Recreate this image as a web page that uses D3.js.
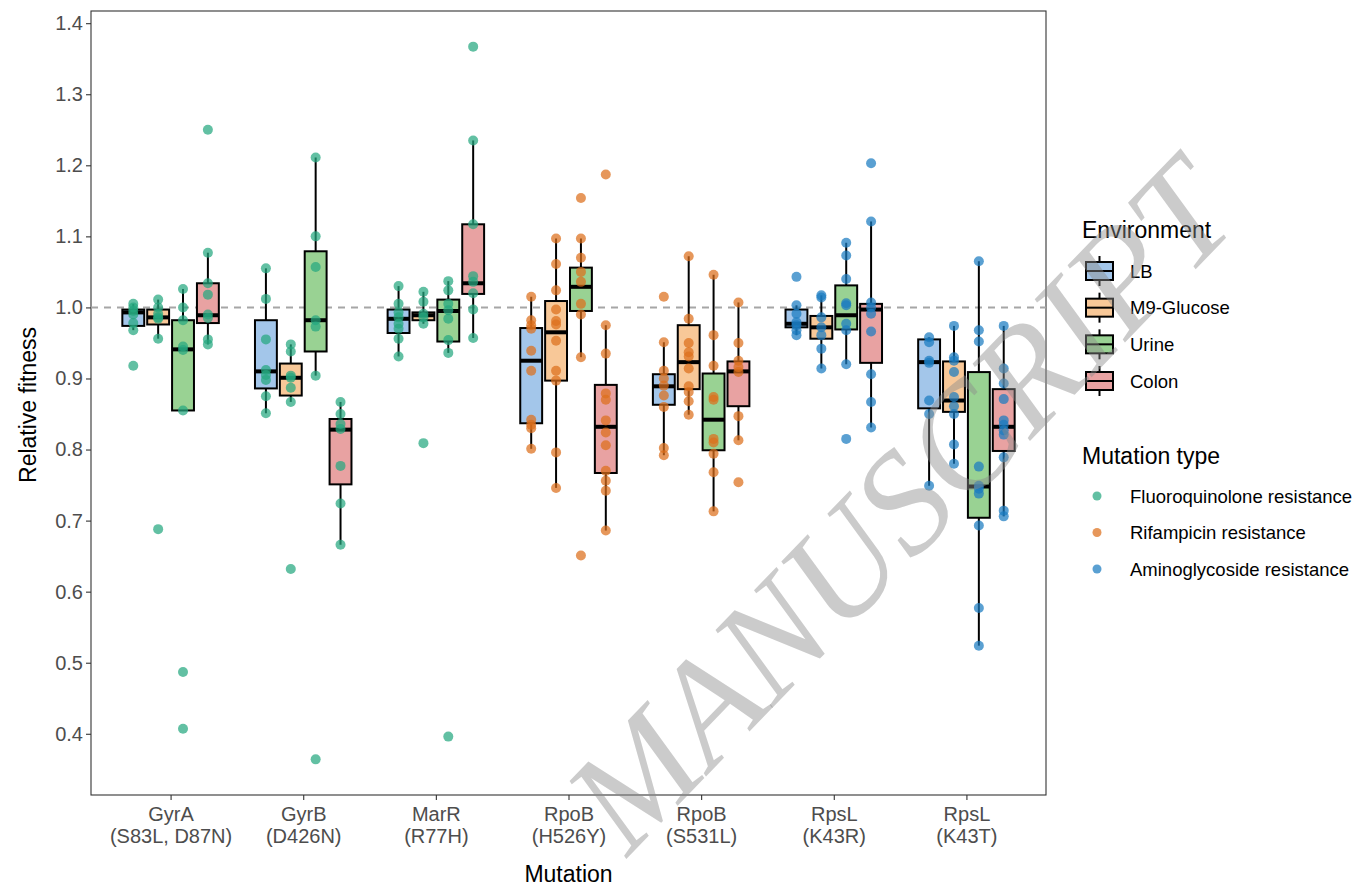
<!DOCTYPE html>
<html>
<head>
<meta charset="utf-8">
<script src="https://cdn.jsdelivr.net/npm/d3@7"></script>
<style>
  body { margin: 0; background: #fff; }
  svg { display: block; font-family: "Liberation Sans", Arial, sans-serif; }
  .tick text { fill: #4d4d4d; }
  .tick line { stroke: #333; }
</style>
</head>
<body>
<svg id="chart" width="1356" height="886"></svg>
<script>
// categories
const mutations = ["GyrA|(S83L, D87N)", "GyrB|(D426N)", "MarR|(R77H)", "RpoB|(H526Y)", "RpoB|(S531L)", "RpsL|(K43R)", "RpsL|(K43T)"];
const environments = ["LB", "M9-Glucose", "Urine", "Colon"];
const mutationTypes = ["Fluoroquinolone resistance", "Rifampicin resistance", "Aminoglycoside resistance"];
const mutationTypeOf = ["Fluoroquinolone resistance", "Fluoroquinolone resistance", "Fluoroquinolone resistance",
  "Rifampicin resistance", "Rifampicin resistance", "Aminoglycoside resistance", "Aminoglycoside resistance"];
const yTicks = [0.4, 0.5, 0.6, 0.7, 0.8, 0.9, 1.0, 1.1, 1.2, 1.3, 1.4];

// relative fitness of each replicate, one list per mutation (same order as mutations)
const lbFitness = [
  [1.005, 1.0, 0.995, 0.99, 0.978, 0.968, 0.918],
  [1.055, 1.012, 0.955, 0.912, 0.905, 0.898, 0.875, 0.851],
  [1.03, 1.005, 0.993, 0.986, 0.977, 0.97, 0.956, 0.931],
  [1.015, 0.982, 0.975, 0.97, 0.939, 0.911, 0.842, 0.835, 0.83, 0.801],
  [1.015, 0.951, 0.911, 0.9, 0.89, 0.876, 0.86, 0.802, 0.792],
  [1.043, 1.003, 0.991, 0.979, 0.975, 0.968, 0.961],
  [0.958, 0.951, 0.925, 0.922, 0.869, 0.85, 0.749]
];
const m9Fitness = [
  [1.011, 1.0, 0.991, 0.986, 0.984, 0.956, 0.688],
  [0.948, 0.938, 0.904, 0.901, 0.887, 0.867, 0.632],
  [1.022, 1.008, 0.991, 0.986, 0.977, 0.809],
  [1.097, 1.061, 1.024, 0.997, 0.981, 0.976, 0.953, 0.911, 0.897, 0.796, 0.746],
  [1.072, 0.984, 0.95, 0.937, 0.931, 0.914, 0.889, 0.881, 0.868, 0.849],
  [1.017, 1.014, 0.986, 0.972, 0.961, 0.942, 0.914],
  [0.974, 0.93, 0.925, 0.909, 0.874, 0.861, 0.85, 0.807, 0.78]
];
const urineFitness = [
  [1.026, 1.0, 0.982, 0.945, 0.94, 0.855, 0.487, 0.407],
  [1.211, 1.1, 1.057, 0.982, 0.973, 0.904, 0.364],
  [1.037, 1.024, 1.005, 0.996, 0.984, 0.954, 0.936, 0.396],
  [1.154, 1.097, 1.07, 1.05, 1.036, 1.005, 0.99, 0.93, 0.651],
  [1.046, 0.961, 0.918, 0.874, 0.87, 0.815, 0.81, 0.794, 0.768, 0.713],
  [1.091, 1.073, 1.04, 1.006, 1.003, 0.977, 0.968, 0.92, 0.815],
  [1.065, 0.968, 0.952, 0.776, 0.749, 0.745, 0.738, 0.693, 0.577, 0.524]
];
const colonFitness = [
  [1.25, 1.077, 1.034, 1.018, 0.99, 0.985, 0.955, 0.948],
  [0.867, 0.85, 0.836, 0.829, 0.777, 0.724, 0.666],
  [1.367, 1.235, 1.117, 1.044, 1.036, 1.02, 0.997, 0.957],
  [1.187, 0.975, 0.935, 0.879, 0.87, 0.841, 0.824, 0.806, 0.77, 0.756, 0.742, 0.686],
  [1.007, 0.95, 0.925, 0.916, 0.909, 0.847, 0.813, 0.754],
  [1.203, 1.121, 1.007, 1.0, 0.991, 0.966, 0.906, 0.867, 0.831],
  [0.974, 0.914, 0.893, 0.871, 0.841, 0.835, 0.827, 0.821, 0.789, 0.714, 0.706]
];

// box statistics: [lower whisker, Q1, median, Q3, upper whisker]
const lbBoxes = [
  [0.968, 0.974, 0.993, 0.997, 1.005],
  [0.851, 0.886, 0.910, 0.982, 1.055],
  [0.931, 0.964, 0.984, 0.997, 1.03],
  [0.801, 0.837, 0.925, 0.971, 1.015],
  [0.792, 0.863, 0.889, 0.906, 0.951],
  [0.961, 0.972, 0.977, 0.997, 1.003],
  [0.749, 0.858, 0.923, 0.955, 0.958]
];
const m9Boxes = [
  [0.956, 0.976, 0.986, 0.997, 1.011],
  [0.867, 0.876, 0.901, 0.921, 0.948],
  [0.977, 0.982, 0.989, 0.993, 1.022],
  [0.746, 0.897, 0.965, 1.009, 1.097],
  [0.849, 0.885, 0.923, 0.975, 1.072],
  [0.914, 0.956, 0.972, 0.988, 1.017],
  [0.78, 0.853, 0.869, 0.924, 0.974]
];
const urineBoxes = [
  [0.855, 0.855, 0.941, 0.982, 1.026],
  [0.904, 0.938, 0.982, 1.079, 1.211],
  [0.936, 0.952, 0.995, 1.011, 1.037],
  [0.93, 0.995, 1.029, 1.056, 1.097],
  [0.713, 0.799, 0.842, 0.907, 1.046],
  [0.92, 0.969, 0.989, 1.031, 1.091],
  [0.524, 0.704, 0.748, 0.909, 1.065]
];
const colonBoxes = [
  [0.948, 0.978, 0.989, 1.034, 1.077],
  [0.666, 0.751, 0.828, 0.843, 0.867],
  [0.957, 1.019, 1.034, 1.117, 1.235],
  [0.686, 0.767, 0.832, 0.891, 0.975],
  [0.813, 0.861, 0.910, 0.924, 1.007],
  [0.831, 0.922, 0.997, 1.005, 1.121],
  [0.706, 0.798, 0.832, 0.885, 0.974]
];

const fitnessByEnv = [lbFitness, m9Fitness, urineFitness, colonFitness];
const boxesByEnv = [lbBoxes, m9Boxes, urineBoxes, colonBoxes];

const envFill = d3.scaleOrdinal(environments, ["#a3c6ea", "#f8c898", "#99d293", "#e8a2a2"]);
const typeColor = d3.scaleOrdinal(mutationTypes, ["#26a87f", "#dc6f1c", "#1a7cc0"]);

// flatten into rows for d3 joins
const boxes = [];
const points = [];
environments.forEach((env, e) => {
  mutations.forEach((m, i) => {
    const [lo, q1, med, q3, hi] = boxesByEnv[e][i];
    boxes.push({ mutation: m, env, lo, q1, med, q3, hi });
    fitnessByEnv[e][i].forEach(v => points.push({ mutation: m, env, type: mutationTypeOf[i], value: v }));
  });
});

const panel = { left: 91, right: 1046, top: 11, bottom: 795 };
const svg = d3.select("#chart");

const x = d3.scalePoint(mutations, [panel.left, panel.right]).padding(0.6);
const dodge = d3.scaleBand(environments, [-0.375 * x.step(), 0.375 * x.step()]);
const boxW = dodge.bandwidth() * 0.88;
const cx = d => x(d.mutation) + dodge(d.env) + dodge.bandwidth() / 2;

// y range with ggplot-style 5% expansion around the data
const [vmin, vmax] = d3.extent(points, d => d.value);
const pad = (vmax - vmin) * 0.05;
const y = d3.scaleLinear([vmin - pad, vmax + pad], [panel.bottom, panel.top]);

// axes
svg.append("g")
  .attr("transform", `translate(${panel.left},0)`)
  .call(d3.axisLeft(y).tickValues(yTicks).tickFormat(d3.format(".1f")).tickSize(5).tickPadding(3))
  .call(g => g.select(".domain").remove())
  .call(g => g.selectAll(".tick line").attr("stroke-width", 1.1))
  .call(g => g.selectAll(".tick text").attr("font-size", 20).attr("font-family", "Liberation Sans, Arial, sans-serif"));

const xAxis = svg.append("g")
  .attr("transform", `translate(0,${panel.bottom})`)
  .call(d3.axisBottom(x).tickSize(5).tickFormat(""))
  .call(g => g.select(".domain").remove())
  .call(g => g.selectAll(".tick line").attr("stroke-width", 1.1));

xAxis.selectAll(".tick").append("text")
  .attr("text-anchor", "middle")
  .attr("font-size", 20)
  .attr("font-family", "Liberation Sans, Arial, sans-serif")
  .attr("y", 26)
  .each(function (d) {
    const lines = d.split("|");
    d3.select(this).selectAll("tspan")
      .data(lines)
      .join("tspan")
      .attr("x", 0)
      .attr("dy", (l, i) => i === 0 ? 0 : 21.5)
      .text(l => l);
  });

// panel border
svg.append("rect")
  .attr("x", panel.left).attr("y", panel.top)
  .attr("width", panel.right - panel.left).attr("height", panel.bottom - panel.top)
  .attr("fill", "none").attr("stroke", "#333").attr("stroke-width", 1.1);

// reference line at 1.0
svg.append("line")
  .attr("x1", panel.left).attr("x2", panel.right)
  .attr("y1", y(1)).attr("y2", y(1))
  .attr("stroke", "#a6a6a6").attr("stroke-width", 2)
  .attr("stroke-dasharray", "7,6");

// boxplots
const boxG = svg.append("g").selectAll("g")
  .data(boxes)
  .join("g");

boxG.append("line")
  .attr("x1", cx).attr("x2", cx)
  .attr("y1", d => y(d.hi)).attr("y2", d => y(d.q3))
  .attr("stroke", "#000").attr("stroke-width", 2);

boxG.append("line")
  .attr("x1", cx).attr("x2", cx)
  .attr("y1", d => y(d.q1)).attr("y2", d => y(d.lo))
  .attr("stroke", "#000").attr("stroke-width", 2);

boxG.append("rect")
  .attr("x", d => cx(d) - boxW / 2)
  .attr("width", boxW)
  .attr("y", d => y(d.q3))
  .attr("height", d => y(d.q1) - y(d.q3))
  .attr("fill", d => envFill(d.env))
  .attr("stroke", "#000").attr("stroke-width", 2);

boxG.append("line")
  .attr("x1", d => cx(d) - boxW / 2).attr("x2", d => cx(d) + boxW / 2)
  .attr("y1", d => y(d.med)).attr("y2", d => y(d.med))
  .attr("stroke", "#000").attr("stroke-width", 4);

// replicate points
svg.append("g").selectAll("circle")
  .data(points)
  .join("circle")
  .attr("cx", cx)
  .attr("cy", d => y(d.value))
  .attr("r", 5)
  .attr("fill", d => typeColor(d.type))
  .attr("fill-opacity", 0.72);

// axis titles
svg.append("text")
  .attr("x", (panel.left + panel.right) / 2).attr("y", 882)
  .attr("text-anchor", "middle").attr("font-size", 23)
  .text("Mutation");

svg.append("text")
  .attr("transform", `translate(36,${(panel.top + panel.bottom) / 2 + 2}) rotate(-90)`)
  .attr("text-anchor", "middle").attr("font-size", 23)
  .text("Relative fitness");

// legend: environment
const legX = 1082;
svg.append("text").attr("x", legX).attr("y", 238).attr("font-size", 23).text("Environment");

const envRows = d3.scalePoint(environments, [271, 381]);
const envKey = svg.append("g").selectAll("g")
  .data(environments)
  .join("g")
  .attr("transform", d => `translate(1099.5,${envRows(d)})`);

envKey.append("line").attr("y1", -15).attr("y2", 15).attr("stroke", "#000").attr("stroke-width", 2);
envKey.append("rect")
  .attr("x", -13.5).attr("y", -9).attr("width", 27).attr("height", 18)
  .attr("fill", d => envFill(d)).attr("stroke", "#000").attr("stroke-width", 2);
envKey.append("line").attr("x1", -13.5).attr("x2", 13.5).attr("stroke", "#000").attr("stroke-width", 2);
envKey.append("text")
  .attr("x", 30.5).attr("y", 6.5).attr("font-size", 18.5)
  .text(d => d);

// legend: mutation type
svg.append("text").attr("x", legX).attr("y", 464).attr("font-size", 23).text("Mutation type");

const typeRows = d3.scalePoint(mutationTypes, [496, 569]);
const typeKey = svg.append("g").selectAll("g")
  .data(mutationTypes)
  .join("g")
  .attr("transform", d => `translate(1097,${typeRows(d)})`);

typeKey.append("circle").attr("r", 4.5)
  .attr("fill", d => typeColor(d)).attr("fill-opacity", 0.72);
typeKey.append("text")
  .attr("x", 33).attr("y", 6.5).attr("font-size", 18.5)
  .text(d => d);

// "MANUSCRIPT" watermark across the figure
svg.append("text")
  .attr("transform", "translate(900,505) rotate(-46)")
  .attr("text-anchor", "middle")
  .attr("dominant-baseline", "central")
  .attr("font-family", "Liberation Serif, Times New Roman, serif")
  .attr("font-style", "italic")
  .attr("font-size", 145)
  .attr("fill", "#8c8c8c")
  .attr("fill-opacity", 0.45)
  .text("MANUSCRIPT");
</script>
</body>
</html>
